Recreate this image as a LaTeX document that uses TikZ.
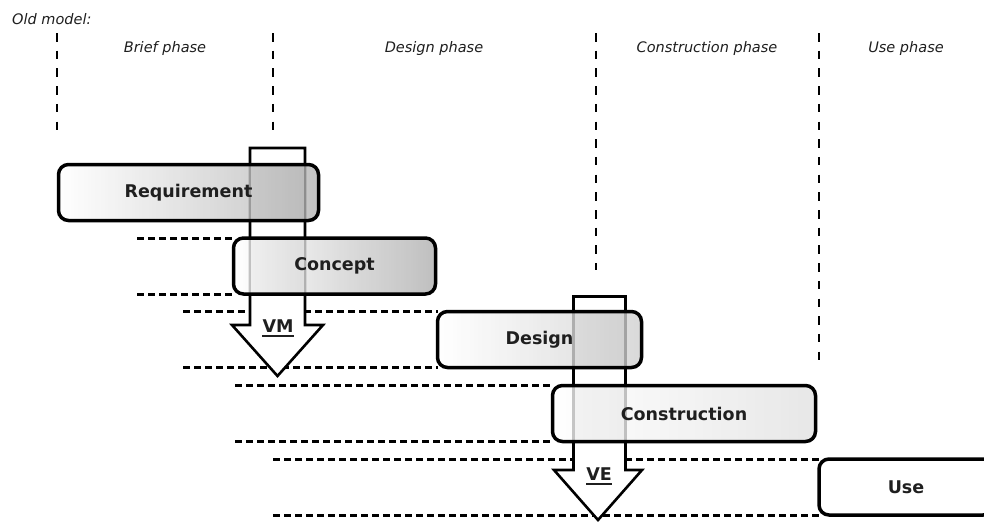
\documentclass[tikz,border=0pt]{standalone}
\usepackage{fontspec}
\setmainfont{DejaVu Sans}
\pgfdeclarelayer{bg}
\pgfsetlayers{bg,main}
\begin{document}
\begin{tikzpicture}[x=1pt,y=-1pt,
  ink/.style={text=black!88},
  box/.style={draw=black, line width=3.5pt, rounded corners=10pt, inner sep=0pt, outer sep=0pt,
    minimum height=56pt, fill opacity=0.78, draw opacity=1, text opacity=1,
    font=\fontsize{17.5}{20}\selectfont\bfseries, ink},
  phase/.style={anchor=base, inner sep=0pt, font=\fontsize{14.5}{17}\selectfont\itshape, ink},
  vdash/.style={line width=1.6pt, dash pattern=on 8.5pt off 9.2pt},
  hdash/.style={line width=3pt, dash pattern=on 7pt off 4pt},
  bigarrow/.style={draw=black, fill=white, line width=2.6pt, line join=miter},
  patch/.style={fill=black!18},
  vlabel/.style={inner sep=0pt, font=\fontsize{17.5}{20}\selectfont\bfseries, ink},
  uline/.style={line width=1.8pt, black!88}
]
\useasboundingbox (0,0) rectangle (984,523);
\clip (0,0) rectangle (984,523);

% titles
\node[phase, anchor=base west] (old) at (12,24) {Old model:};
\node[phase] (pbrief) at (165,52) {Brief phase};
\node[phase] (pdesign) at (434,52) {Design phase};
\node[phase] (pcons) at (707,52) {Construction phase};
\node[phase] (puse) at (906,52) {Use phase};

% boxes
\node[box, left color=white, right color=black!30, minimum width=260pt] (req) at (188.5,192.5) {Requirement};
\node[box, left color=white, right color=black!32, minimum width=202pt] (con) at (334.5,266) {Concept};
\node[box, left color=white, right color=black!19, minimum width=204pt] (des) at (539.5,339.5) {Design};
\node[box, left color=white, right color=black!12, minimum width=263pt] (cst) at (684,413.5) {Construction};
\node[box, fill=white, minimum width=174pt] (use) at (906,487) {Use};

% arrow labels
\node[vlabel] (vm) at (278,326) {VM};
\node[vlabel] (ve) at (599,474) {VE};
\draw[uline] ([yshift=-4pt]vm.base west) -- ([yshift=-4pt]vm.base east);
\draw[uline] ([yshift=-4pt]ve.base west) -- ([yshift=-4pt]ve.base east);

% start points of the level lines
\coordinate (s1) at (137,0);
\coordinate (s2) at (183,0);
\coordinate (s3) at (235,0);
\coordinate (s4) at (273,0);

\begin{pgfonlayer}{bg}
  % phase separators
  \draw[vdash] (57,33) -- (57,133);
  \draw[vdash] (273,33) -- (273,131);
  \draw[vdash] (596,33) -- (596,270);
  \draw[vdash] (819,33) -- (819,365);
  % level lines
  \draw[hdash] (s1 |- con.north west) -- (con.north west);
  \draw[hdash] (s1 |- con.south west) -- (con.south west);
  \draw[hdash] (s2 |- des.north west) -- (des.north west);
  \draw[hdash] (s2 |- des.south west) -- (des.south west);
  \draw[hdash] (s3 |- cst.north west) -- (cst.north west);
  \draw[hdash] (s3 |- cst.south west) -- (cst.south west);
  \draw[hdash] (s4 |- use.north west) -- (use.north west);
  \draw[hdash] (s4 |- use.south west) -- (use.south west);
  % VM arrow
  \draw[bigarrow] (250,148) -- (305,148) -- (305,325) -- (323,325) -- (277.5,376) -- (232,325) -- (250,325) -- cycle;
  % VE arrow
  \draw[bigarrow] (573.5,296.5) -- (625.5,296.5) -- (625.5,470) -- (642,470) -- (598,520) -- (554,470) -- (573.5,470) -- cycle;
  % darker overlap of the arrows with the boxes
  \begin{scope}
    \clip[rounded corners=10pt] (req.north west) rectangle (req.south east);
    \fill[patch] (251.4,140) rectangle (303.6,240);
  \end{scope}
  \begin{scope}
    \clip[rounded corners=10pt] (con.north west) rectangle (con.south east);
    \fill[patch] (251.4,230) rectangle (303.6,300);
  \end{scope}
  \begin{scope}
    \clip[rounded corners=10pt] (des.north west) rectangle (des.south east);
    \fill[patch] (574.9,300) rectangle (624.1,380);
  \end{scope}
  \begin{scope}
    \clip[rounded corners=10pt] (cst.north west) rectangle (cst.south east);
    \fill[patch] (574.9,380) rectangle (624.1,450);
  \end{scope}
\end{pgfonlayer}
\end{tikzpicture}
\end{document}
